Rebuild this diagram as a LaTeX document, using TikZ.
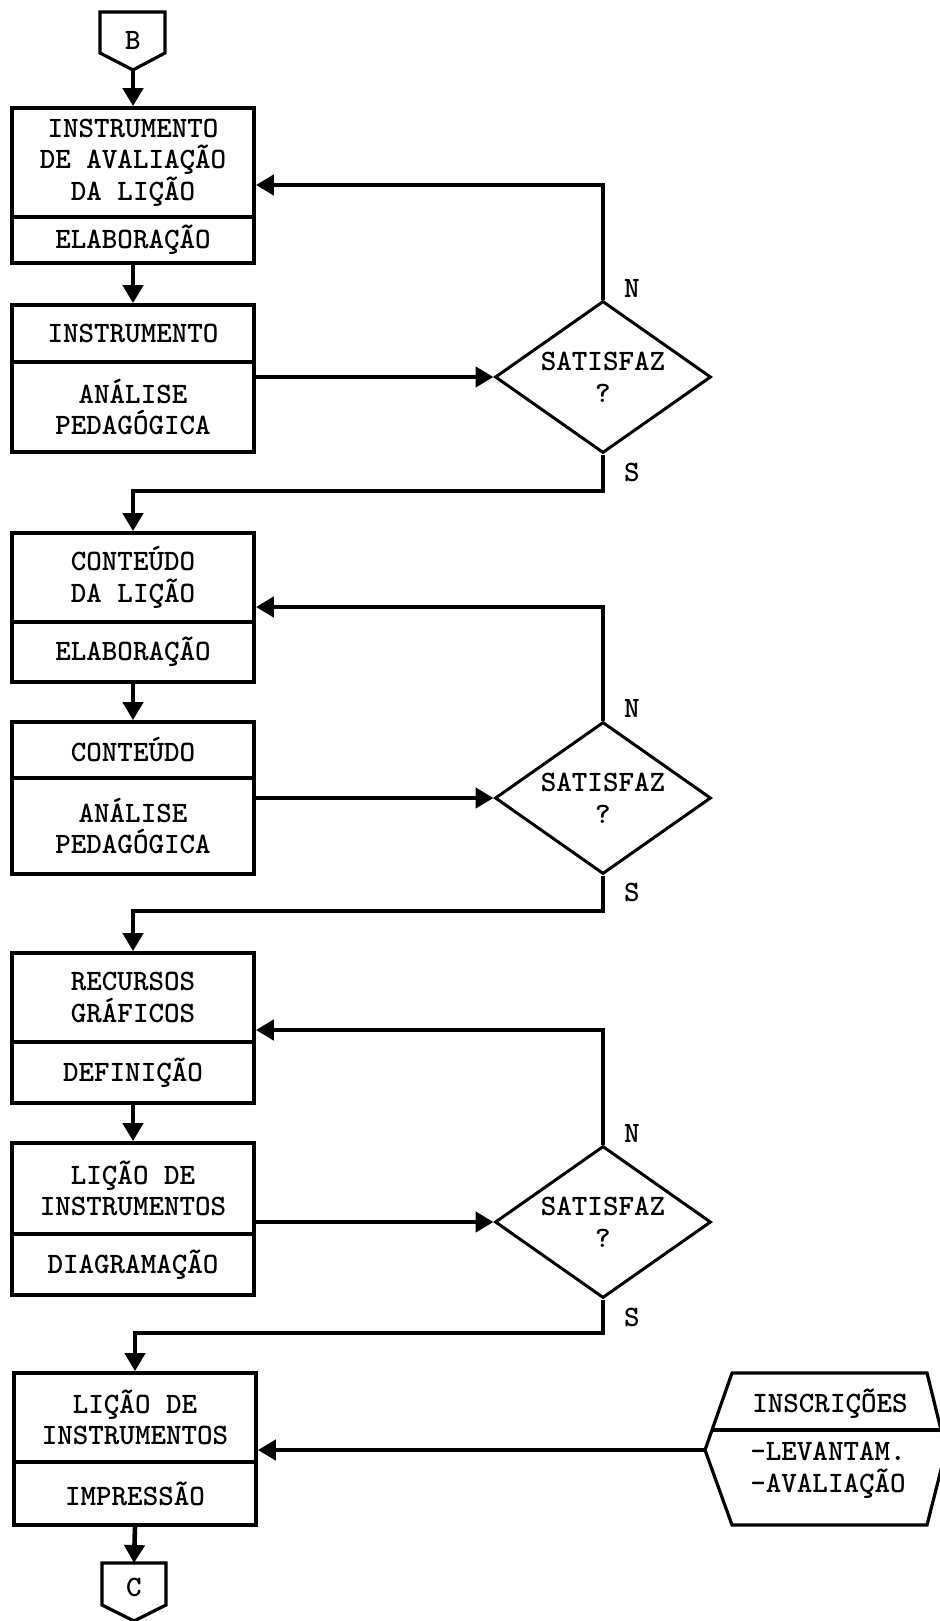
\documentclass[tikz,border=0pt]{standalone}
\usetikzlibrary{arrows.meta,shapes.geometric}
\begin{document}
\begin{tikzpicture}[x=0.5pt,y=-0.5pt,
  every node/.style={font=\ttfamily\bfseries\fontsize{14.8}{15.8}\selectfont, inner sep=0pt},
  part/.style={draw, line width=1.9pt, minimum width=121pt, align=center},
  dec/.style={draw, diamond, line width=1.5pt, minimum width=108pt, minimum height=76pt, aspect=1.42, align=center},
  conn/.style={line width=2.3pt},
  arr/.style={conn, -{Triangle[length=9pt,width=10pt]}},
  outl/.style={line width=1.6pt, line join=miter}
]
\useasboundingbox (0,0) rectangle (939,1621);

% connector B
\node (B) at (133,40) {B};
\draw[outl] (100,12) -- (165,12) -- (165,53) -- (133,70) -- (100,53) -- cycle;
\coordinate (Btip) at (133,70);

% boxes
\node[part, minimum height=54.5pt] (u1) at (133,162.5) {INSTRUMENTO\\DE AVALIAÇÃO\\DA LIÇÃO};
\node[part, minimum height=23pt]   (l1) at (133,240)   {ELABORAÇÃO};
\node[part, minimum height=28.5pt] (u2) at (133,333.5) {INSTRUMENTO};
\node[part, minimum height=45pt]   (l2) at (133,407)   {ANÁLISE\\PEDAGÓGICA};
\node[part, minimum height=44.5pt] (u3) at (133,577.5) {CONTEÚDO\\DA LIÇÃO};
\node[part, minimum height=30pt]   (l3) at (133,652)   {ELABORAÇÃO};
\node[part, minimum height=28pt]   (u4) at (133,750)   {CONTEÚDO};
\node[part, minimum height=48pt]   (l4) at (133,826)   {ANÁLISE\\PEDAGÓGICA};
\node[part, minimum height=44.5pt] (u5) at (133,997.5) {RECURSOS\\GRÁFICOS};
\node[part, minimum height=30.5pt] (l5) at (133,1072.5){DEFINIÇÃO};
\node[part, minimum height=45.5pt] (u6) at (133,1188.5){LIÇÃO DE\\INSTRUMENTOS};
\node[part, minimum height=30.5pt] (l6) at (133,1264.5){DIAGRAMAÇÃO};
\node[part, minimum height=44.5pt] (u7) at (135,1417.5){LIÇÃO DE\\INSTRUMENTOS};
\node[part, minimum height=31.5pt] (l7) at (135,1493.5){IMPRESSÃO};

% decisions
\node[dec] (d1) at (603,377)  {SATISFAZ\\?};
\node[dec] (d2) at (603,798)  {SATISFAZ\\?};
\node[dec] (d3) at (603,1222) {SATISFAZ\\?};

\node (n1) at (632,288)  {N};
\node (s1) at (632,472)  {S};
\node (n2) at (632,708)  {N};
\node (s2) at (632,892)  {S};
\node (n3) at (632,1133) {N};
\node (s3) at (632,1317) {S};

% connector C
\node (C) at (134,1587) {C};
\draw[outl] (102,1563) -- (166,1563) -- (166,1605) -- (134,1621) -- (102,1605) -- cycle;
\coordinate (Ctop) at (134,1563);

% inscricoes
\node (ins) at (830,1404) {INSCRIÇÕES};
\node[align=left] (insb) at (828,1470) {-LEVANTAM.\\-AVALIAÇÃO};
\draw[outl] (732,1373) -- (927,1373) -- (946,1450) -- (927,1525) -- (732,1525) -- (705,1450) -- cycle;
\draw[outl] (712,1430) -- (941,1430);
\coordinate (inspt) at (705,1450);

% helper levels
\coordinate (f1) at (0,185);
\coordinate (f2) at (0,607);
\coordinate (f3) at (0,1030);
\coordinate (j1) at (0,491);
\coordinate (j2) at (0,911);
\coordinate (j3) at (0,1333);

% connectors
\draw[arr] (Btip) -- (u1.north);
\draw[arr] (l1.south) -- (u2.north);
\draw[arr] (l2.east |- d1.west) -- (d1.west);
\draw[arr] (d1.north) |- (u1.east |- f1);
\draw[arr] (d1.south) |- (u3.north |- j1) -- (u3.north);

\draw[arr] (l3.south) -- (u4.north);
\draw[arr] (l4.east |- d2.west) -- (d2.west);
\draw[arr] (d2.north) |- (u3.east |- f2);
\draw[arr] (d2.south) |- (u5.north |- j2) -- (u5.north);

\draw[arr] (l5.south) -- (u6.north);
\draw[arr] (u6.east |- d3.west) -- (d3.west);
\draw[arr] (d3.north) |- (u5.east |- f3);
\draw[arr] (d3.south) |- (u7.north |- j3) -- (u7.north);

\draw[arr] (inspt) -- (u7.east |- inspt);
\draw[arr] (l7.south) -- (Ctop);
\end{tikzpicture}
\end{document}
